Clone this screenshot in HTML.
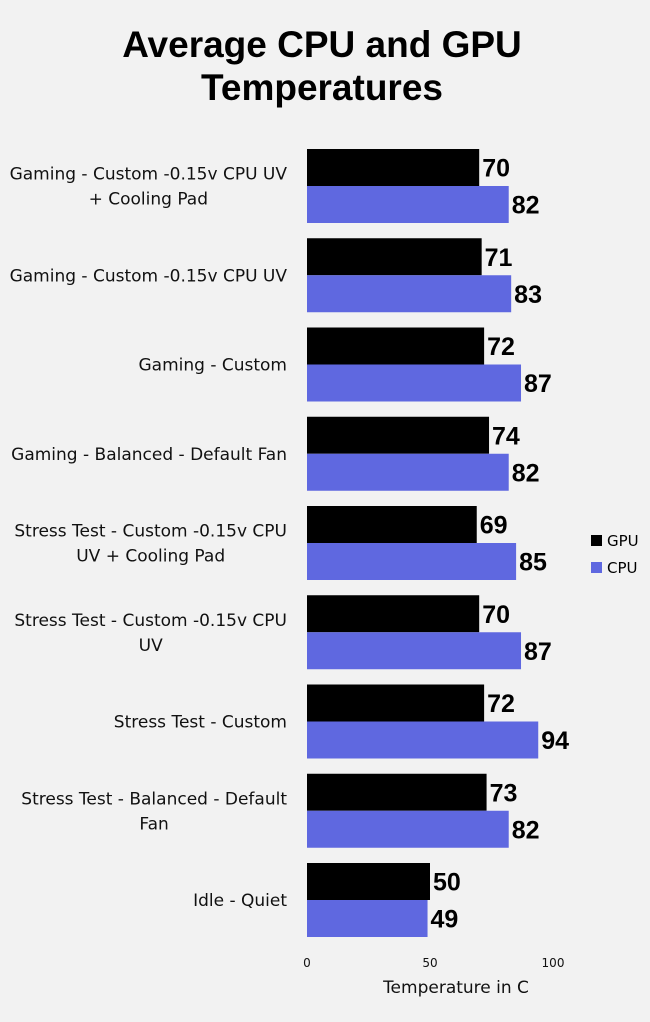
<!DOCTYPE html>
<html><head><meta charset="utf-8"><style>
body{margin:0;background:#f2f2f2;}
svg{display:block;font-family:"Liberation Sans",sans-serif;}
</style></head><body>
<svg id="chart" width="650" height="1022" viewBox="0 0 650 1022">
<rect width="650" height="1022" fill="#f2f2f2"/>
<text x="322" y="57" text-anchor="middle" font-size="37" font-weight="bold">Average CPU and GPU</text>
<text x="322" y="100" text-anchor="middle" font-size="37" font-weight="bold">Temperatures</text>
<g id="bars"></g>
<g id="labels"></g>
<g id="ticks"></g>
<text x="456" y="993" text-anchor="middle" font-size="17" fill="#111" font-family="'DejaVu Sans',sans-serif">Temperature in C</text>
<rect x="591" y="535" width="11" height="11" fill="#000"/>
<text x="607" y="546" font-size="15" font-family="'DejaVu Sans',sans-serif">GPU</text>
<rect x="591" y="562" width="11" height="11" fill="#5f68e0"/>
<text x="607" y="573" font-size="15" font-family="'DejaVu Sans',sans-serif">CPU</text>
</svg>
<script>
const categories=[["Gaming - Custom -0.15v CPU UV","+ Cooling Pad"],["Gaming - Custom -0.15v CPU UV"],["Gaming - Custom"],["Gaming - Balanced - Default Fan"],["Stress Test - Custom -0.15v CPU","UV + Cooling Pad"],["Stress Test - Custom -0.15v CPU","UV"],["Stress Test - Custom"],["Stress Test - Balanced - Default","Fan"],["Idle - Quiet"]];
const gpuValues=[70,71,72,74,69,70,72,73,50];
const cpuValues=[82,83,87,82,85,87,94,82,49];
const tickValues=[0,50,100];
const NS="http://www.w3.org/2000/svg";
const x0=307,k=2.46,top0=149,pitch=89.25,bh=37;
const xs=v=>x0+v*k;
const yg=i=>top0+i*pitch;
const bars=document.getElementById('bars'),labels=document.getElementById('labels'),ticks=document.getElementById('ticks');
function mk(tag,attrs,parent){const e=document.createElementNS(NS,tag);for(const a in attrs)e.setAttribute(a,attrs[a]);parent.appendChild(e);return e;}
categories.forEach((c,i)=>{
  const y=yg(i);
  [[gpuValues[i],"#000","gpu",y],[cpuValues[i],"#5f68e0","cpu",y+bh]].forEach(([v,col,s,yy])=>{
    const r=mk('rect',{x:x0,y:yy,width:xs(v)-x0,height:bh,fill:col},bars);
    
    
    const t=mk('text',{x:xs(v)+3,y:yy+bh/2+9,'font-size':25,'font-weight':'bold'},labels);
    t.textContent=v;
    
    
  });
  const cy=y+bh;
  const n=c.length;
  const els=c.map((line,j)=>{
    const t=mk('text',{x:287,y:cy+6+(j-(n-1)/2)*25,'text-anchor':'middle','font-size':17,fill:'#111','font-family':"'DejaVu Sans',sans-serif"},labels);
    t.textContent=line;
    
    
    return t;
  });
  const w=Math.max(...els.map(e=>e.getComputedTextLength()));
  els.forEach(e=>e.setAttribute('x',287-w/2));
});
tickValues.forEach(v=>{
  const t=mk('text',{x:xs(v),y:967,'text-anchor':'middle','font-size':12,fill:'#111','font-family':"'DejaVu Sans',sans-serif"},ticks);
  t.textContent=v;
  
  
});
</script>
</body></html>
